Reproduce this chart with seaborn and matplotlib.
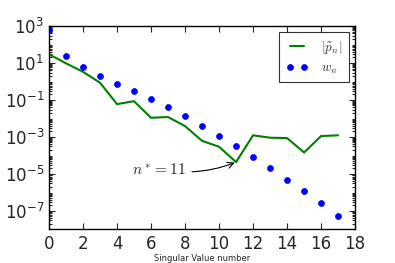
import numpy as np
import pandas as pd
import matplotlib
matplotlib.use("Agg")
import matplotlib.pyplot as plt
import seaborn as sns

sns.set_style("ticks")
plt.rcParams['font.family'] = ['DejaVu Sans']

n = list(range(18))
log_p = [1.47, 0.98, 0.52, -0.07, -1.23, -1.07, -1.97, -1.93, -2.42,
         -3.22, -3.54, -4.37, -2.92, -3.05, -3.07, -3.85, -2.96, -2.92]
log_w = [2.78, 1.39, 0.78, 0.29, -0.13, -0.54, -0.96, -1.41, -1.89,
         -2.40, -2.94, -3.50, -4.08, -4.71, -5.33, -5.96, -6.61, -7.30]
p_vals = [10 ** v for v in log_p]
w_vals = [10 ** v for v in log_w]
xticks = [0, 2, 4, 6, 8, 10, 12, 14, 16, 18]
yticks = [1e3, 1e1, 1e-1, 1e-3, 1e-5, 1e-7]
xlabel = "Singular Value number"
label_p = r"$|\tilde{p}_n|$"
label_w = r"$w_n$"
annot = r"$n^* = 11$"
n_star = 11

df = pd.DataFrame({"n": n, "p": p_vals, "w": w_vals})

fig = plt.figure(figsize=(3.95, 2.63), dpi=100)
ax = fig.add_axes([0.124, 0.129, 0.775, 0.772])

sns.lineplot(data=df, x="n", y="p", ax=ax, color="#008000", linewidth=1.5,
             label=label_p, legend=False)
sns.lineplot(data=df, x="n", y="w", ax=ax, color="#0000ff", marker="o",
             linestyle="", markersize=4.3, markeredgecolor="#0000ff",
             markeredgewidth=0.5, label=label_w, legend=False)

ax.set_yscale("log")
ax.set_xlim(0, 18)
ax.set_ylim(1e-8, 1e3)
ax.set_xticks(xticks)
ax.set_yticks(yticks)
ax.set_yticklabels([r"$10^{%d}$" % int(round(np.log10(t))) for t in yticks])
ax.yaxis.set_minor_locator(matplotlib.ticker.LogLocator(base=10, subs=np.arange(2, 10), numticks=30))
ax.yaxis.set_minor_formatter(matplotlib.ticker.NullFormatter())
ax.tick_params(which="both", direction="in", top=True, right=True, labelsize=12, width=0.8)
ax.tick_params(which="major", length=4)
ax.tick_params(which="minor", length=2)
ax.tick_params(axis="x", pad=4)
for s in ax.spines.values():
    s.set_linewidth(1.0)
    s.set_color("black")

ax.set_xlabel(xlabel, fontsize=6, labelpad=1)
ax.set_ylabel("")

ax.annotate(annot, xy=(n_star, p_vals[n_star]), xytext=(4.9, 10 ** -4.75),
            fontsize=11, va="center", ha="left", math_fontfamily="cm",
            arrowprops=dict(arrowstyle="->", color="black", lw=0.8,
                            connectionstyle="arc3,rad=0.15", shrinkA=2, shrinkB=1))

handles, labels = ax.get_legend_handles_labels()
leg = ax.legend(handles, labels, loc="upper right", numpoints=2, fancybox=False,
                frameon=True, fontsize=9.5, borderpad=0.5, handlelength=1.7,
                handletextpad=1.0, labelspacing=0.45, borderaxespad=0.45)
leg.get_frame().set_edgecolor("black")
leg.get_frame().set_linewidth(0.8)
for t in leg.get_texts():
    t.set_math_fontfamily("cm")
    t.set_color("#333333")

fig.savefig("out.png", dpi=100)
